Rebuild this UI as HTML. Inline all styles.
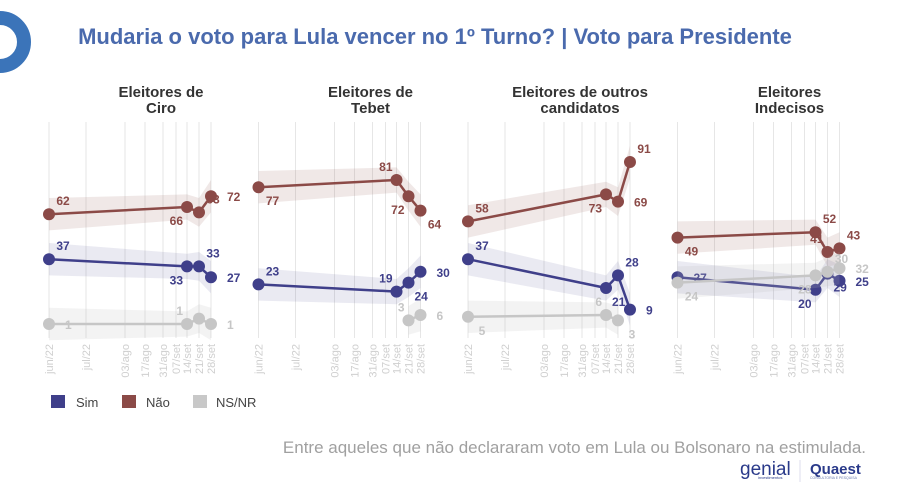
<!DOCTYPE html>
<html><head><meta charset="utf-8"><style>
html,body{margin:0;padding:0;background:#fff;}
svg{display:block;font-family:"Liberation Sans",sans-serif;}
</style></head><body>
<svg id="c" width="900" height="503" viewBox="0 0 900 503" xmlns="http://www.w3.org/2000/svg">
<circle cx="0" cy="42" r="24" fill="none" stroke="#3b74b9" stroke-width="14"/>
<text x="435" y="44" text-anchor="middle" font-size="22" font-weight="bold" fill="#4a6aad">Mudaria o voto para Lula vencer no 1º Turno? | Voto para Presidente</text>
<g id="panels"></g>
<g>
<rect x="51" y="395" width="14" height="13" fill="#3f3f8a"/>
<text x="76" y="407" font-size="13" fill="#444">Sim</text>
<rect x="122" y="395" width="14" height="13" fill="#8b4a47"/>
<text x="146" y="407" font-size="13" fill="#444">Não</text>
<rect x="193" y="395" width="14" height="13" fill="#c8c8c8"/>
<text x="216" y="407" font-size="13" fill="#444">NS/NR</text>
</g>
<text x="866" y="453" text-anchor="end" font-size="17" fill="#a0a0a0">Entre aqueles que não declararam voto em Lula ou Bolsonaro na estimulada.</text>
<text x="740" y="475" font-size="19" fill="#2a3a8a">genial</text>
<text x="758" y="479" font-size="4" fill="#2a3a8a">investimentos</text>
<line x1="800" y1="460" x2="800" y2="482" stroke="#dde" stroke-width="1"/>
<text x="810" y="474" font-size="15" font-weight="bold" fill="#2a3a8a">Quaest</text>
<text x="810" y="479" font-size="3.5" fill="#6a7ab0">CONSULTORIA E PESQUISA</text>
</svg>
<script>
const dateLabels=["jun/22","jul/22","03/ago","17/ago","31/ago","07/set","14/set","21/set","28/set"];
const dateOffsets=[0,37,76,96,114,127,138,150,162];
const panelTitles=[["Eleitores de","Ciro"],["Eleitores de","Tebet"],["Eleitores de outros","candidatos"],["Eleitores","Indecisos"]];
const pointDates=[0,6,7,8];
const naoValues=[[62,66,63,72],[77,81,72,64],[58,73,69,91],[49,52,41,43]];
const simValues=[[37,33,33,27],[23,19,24,30],[37,21,28,9],[27,20,29,25]];
const nsValues=[[1,1,4,1],[null,null,3,6],[5,6,3,null],[24,28,30,32]];
const margins=[9,7,8,9];
// label placement codes
const naoPos=[["ur","bl","ur","r"],["dr","ul","bl","dr"],["ur","bl","r","ur"],["dr","ur","ul","ur"]];
const simPos=[["ur","bl","ur","r"],["ur","ul","br","r"],["ur","br","ur","r"],["r","bl","br","r"]];
const nsPos=[["r","ul","none","r"],["none","none","ul","r"],["dr","ul","dr","none"],["dr","bl","ur","r"]];
const posOff={ur:[14,-9,'middle'],r:[16,5,'start'],bl:[-4,18,'end'],ul:[-4,-9,'end'],dr:[14,18,'middle'],br:[6,18,'start']};

const svg=document.getElementById('panels');
const NS='http://www.w3.org/2000/svg';
function mk(t,a){const e=document.createElementNS(NS,t);for(const k in a)e.setAttribute(k,a[k]);svg.appendChild(e);return e;}
function px(p,d){return 49+p*209.5+dateOffsets[d];}
function py(v){return 325.8-1.8*v;}
const series=[
 {vals:naoValues,pos:naoPos,col:'#8b4a47',band:'rgba(139,74,71,0.13)',name:'nao'},
 {vals:simValues,pos:simPos,col:'#3f3f8a',band:'rgba(63,63,138,0.11)',name:'sim'},
 {vals:nsValues,pos:nsPos,col:'#c6c6c6',band:'rgba(190,190,190,0.18)',name:'nsnr'}];
for(let p=0;p<4;p++){
  const cx=px(p,4)-2;
  panelTitles[p].forEach((t,i)=>{
    const e=mk('text',{x:cx,y:97+i*16,'text-anchor':'middle','font-size':'15','font-weight':'bold',fill:'#333'});
    
    
    e.textContent=t;});
  dateLabels.forEach((d,i)=>{
    const x=px(p,i);
    const l=mk('line',{x1:x,y1:122,x2:x,y2:338,stroke:'#e6e6e6','stroke-width':1});
    
    
    const t=mk('text',{x:x+4,y:344,transform:`rotate(-90 ${x+4} 344)`,'text-anchor':'end','font-size':'11',fill:'#cfcfcf'});
    
    
    t.textContent=d;});
  series.forEach(s=>{
    const v=s.vals[p];
    const idx=[];v.forEach((a,i)=>{if(a!==null)idx.push(i);});
    if(idx.length>1){
      let top=idx.map(i=>`${px(p,pointDates[i])},${py(v[i]+margins[i])}`);
      let bot=idx.slice().reverse().map(i=>`${px(p,pointDates[i])},${py(v[i]-margins[i])}`);
      const b=mk('polygon',{points:top.concat(bot).join(' '),fill:s.band});
      
      
    }
    for(let k=1;k<idx.length;k++){
      const a=idx[k-1],c=idx[k];
      const l=mk('line',{x1:px(p,pointDates[a]),y1:py(v[a]),x2:px(p,pointDates[c]),y2:py(v[c]),stroke:s.col,'stroke-width':2.5});
      
      
    }
    idx.forEach(i=>{
      const x=px(p,pointDates[i]),y=py(v[i]);
      const c=mk('circle',{cx:x,cy:y,r:6,fill:s.col});
      
      
      const code=s.pos[p][i];
      if(code==='none')return;
      const o=posOff[code];
      const t=mk('text',{x:x+o[0],y:y+o[1],'text-anchor':o[2],'font-size':'12','font-weight':'bold',fill:s.col});
      
      
      t.textContent=v[i];
    });
  });
}
</script>
</body></html>
